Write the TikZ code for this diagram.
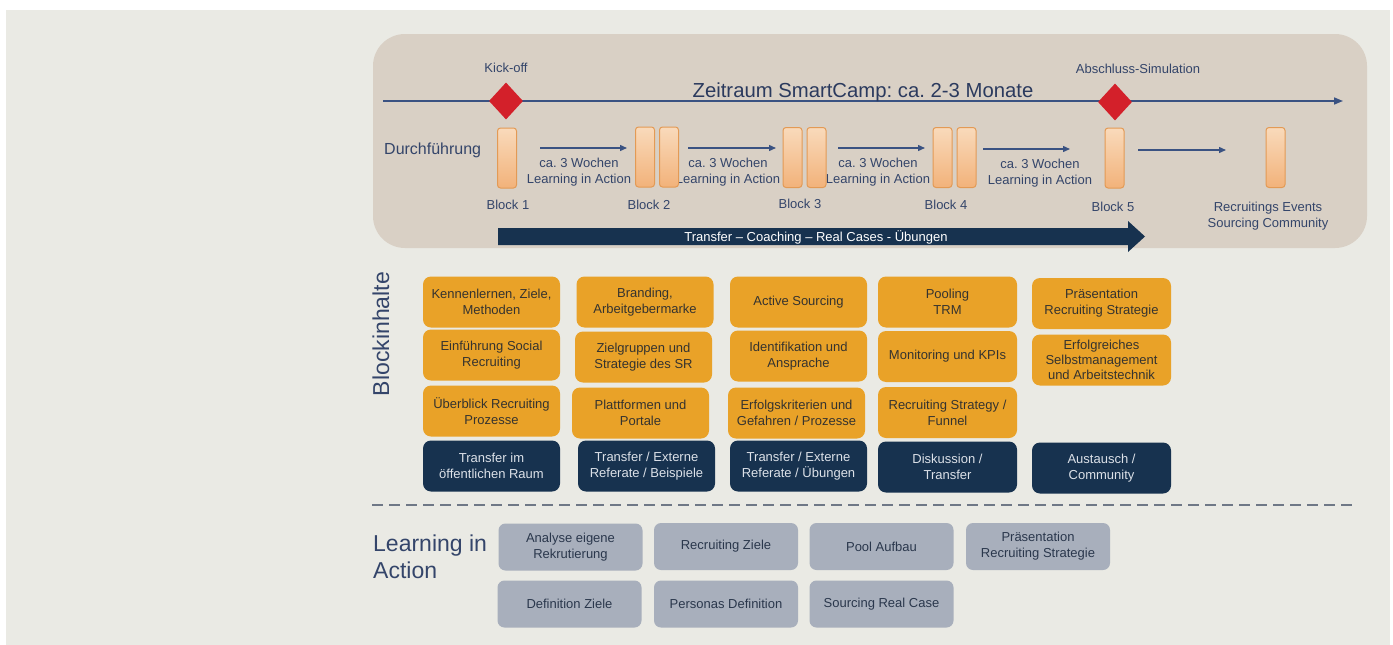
\documentclass[tikz,border=0pt]{standalone}
\usepackage{fontspec}
\setmainfont{Liberation Sans}
\frenchspacing
\usetikzlibrary{arrows.meta,shapes.geometric,calc}
\definecolor{bgc}{HTML}{EAEAE4}
\definecolor{panelc}{HTML}{D9D0C5}
\definecolor{tlc}{HTML}{3A5282}
\definecolor{titlec}{HTML}{2B3A5E}
\definecolor{kred}{HTML}{D3202A}
\definecolor{orangec}{HTML}{E9A228}
\definecolor{navyc}{HTML}{17324F}
\definecolor{grayc}{HTML}{A8AFBC}
\definecolor{gtext}{HTML}{2A374C}
\definecolor{otext}{HTML}{35332F}
\definecolor{ntext}{HTML}{DCE1E8}
\definecolor{dashc}{HTML}{6F7886}
\definecolor{lblc}{HTML}{34456A}
\definecolor{barline}{HTML}{E39A55}
\definecolor{bartop}{HTML}{F9DABB}
\definecolor{barbot}{HTML}{F2B27A}
\begin{document}
\begin{tikzpicture}[x=1pt,y=-1pt,
  small/.style={font=\fontsize{13}{16}\selectfont, inner sep=0pt, align=center},
  lbl/.style={small, text=lblc},
  obox/.style={small, rectangle, rounded corners=8pt, fill=orangec, text=otext, minimum width=137pt, minimum height=51pt},
  nbox/.style={small, rectangle, rounded corners=8pt, fill=navyc, text=ntext, minimum width=137pt, minimum height=51pt},
  gbox/.style={small, rectangle, rounded corners=7pt, fill=grayc, text=gtext, minimum width=144pt, minimum height=47pt},
  bar/.style={rectangle, rounded corners=3pt, draw=barline, line width=1pt, top color=bartop, bottom color=barbot, minimum width=19pt, minimum height=60pt, inner sep=0pt},
  milestone/.style={diamond, fill=kred, minimum width=34pt, minimum height=37pt, inner sep=0pt},
  sarrow/.style={draw=tlc, line width=1.3pt, -{Triangle[length=7pt,width=6pt]}},
]
\useasboundingbox (0,0) rectangle (1393,645);
\fill[white] (0,0) rectangle (1393,645);
\fill[bgc] (6,10) rectangle (1390,646);

% top panel
\node[rectangle, rounded corners=32pt, fill=panelc, minimum width=994pt, minimum height=214pt, inner sep=0pt] (panel) at (870,141) {};

% timeline
\coordinate (tl0) at (383,101);
\coordinate (tl1) at (1343,101);
\draw[draw=tlc, line width=1.6pt, -{Triangle[length=9pt,width=7pt]}] (tl0) -- (tl1);
\node[font=\fontsize{20.3}{24}\selectfont, text=titlec, inner sep=0pt, anchor=base] (title) at (863,97) {Zeitraum SmartCamp: ca. 2-3 Monate};
\node[milestone] (kick) at (506,101) {};
\node[milestone] (absch) at (1115,102) {};
\node[lbl, anchor=base] (kicklbl) at (506,72) {Kick-off};
\node[lbl, anchor=base] (abschlbl) at (1138,73) {Abschluss-Simulation};

\node[font=\fontsize{16}{19}\selectfont, text=lblc, inner sep=0pt, anchor=base west] (durch) at (384,154) {Durchführung};

% week labels (behind bars)
\node[lbl] (w1) at (579,172) {ca. 3 Wochen\\Learning in Action};
\node[lbl] (w2) at (728,172) {ca. 3 Wochen\\Learning in Action};
\node[lbl] (w3) at (878,172) {ca. 3 Wochen\\Learning in Action};
\node[lbl] (w4) at (1040,173) {ca. 3 Wochen\\Learning in Action};

% bars
\node[bar] (b1) at (507,158) {};
\node[bar] (b2a) at (645,157) {};
\node[bar] (b2b) at (669,157) {};
\node[bar] (b3a) at (792.5,157.5) {};
\node[bar] (b3b) at (816.5,157.5) {};
\node[bar] (b4a) at (942.5,157.5) {};
\node[bar] (b4b) at (966.5,157.5) {};
\node[bar] (b5) at (1114.5,158) {};
\node[bar] (b6) at (1275.5,157.5) {};

% small arrows
\draw[sarrow, shorten <=23pt, shorten >=8pt] ($(b1.east)+(0,-10)$) -- ($(b2a.west)+(0,-9)$);
\draw[sarrow, shorten <=9pt, shorten >=6.5pt] ($(b2b.east)+(0,-9)$) -- ($(b3a.west)+(0,-9.5)$);
\draw[sarrow, shorten <=11.5pt, shorten >=7.5pt] ($(b3b.east)+(0,-9.5)$) -- ($(b4a.west)+(0,-9.5)$);
\draw[sarrow, shorten <=6.5pt, shorten >=34.5pt] ($(b4b.east)+(0,-8.5)$) -- ($(b5.west)+(0,-9)$);
\draw[sarrow, shorten <=13.5pt, shorten >=39.5pt] ($(b5.east)+(0,-8)$) -- ($(b6.west)+(0,-7.5)$);

% block labels
\node[lbl, anchor=base] (l1) at (508,209) {Block 1};
\node[lbl, anchor=base] (l2) at (649,209) {Block 2};
\node[lbl, anchor=base] (l3) at (800,208) {Block 3};
\node[lbl, anchor=base] (l4) at (946,209) {Block 4};
\node[lbl, anchor=base] (l5) at (1113,211) {Block 5};
\node[lbl] (l6) at (1268,216) {Recruitings Events\\Sourcing Community};

% transfer arrow
\fill[navyc] (498,228) -- (1128,228) -- (1128,221) -- (1145,236.5) -- (1128,252) -- (1128,245) -- (498,245) -- cycle;
\node[small, text=white] (transfer) at (816,237) {Transfer – Coaching – Real Cases - Übungen};

% Blockinhalte
\node[font=\fontsize{23}{27}\selectfont, text=lblc, inner sep=0pt, rotate=90] (bi) at (381,334) {Blockinhalte};

% column 1
\node[obox] (c1a) at (491.5,302) {Kennenlernen, Ziele,\\Methoden};
\node[obox] (c1b) at (491.5,355) {Einführung Social\\Recruiting};
\node[obox] (c1c) at (491.5,411) {Überblick Recruiting\\Prozesse};
\node[nbox] (c1d) at (491.5,466) {Transfer im\\öffentlichen Raum};
% column 2
\node[obox] (c2a) at (645,302) {Branding,\\Arbeitgebermarke};
\node[obox] (c2b) at (643.5,357) {Zielgruppen und\\Strategie des SR};
\node[obox] (c2c) at (640.5,413) {Plattformen und\\Portale};
\node[nbox] (c2d) at (646.5,466) {Transfer / Externe\\Referate / Beispiele};
% column 3
\node[obox] (c3a) at (798.5,302) {Active Sourcing};
\node[obox] (c3b) at (798.5,356) {Identifikation und\\Ansprache};
\node[obox] (c3c) at (796.5,413) {Erfolgskriterien und\\Gefahren / Prozesse};
\node[nbox] (c3d) at (798.5,466) {Transfer / Externe\\Referate / Übungen};
% column 4
\node[obox, minimum width=139pt] (c4a) at (947.5,302) {Pooling\\TRM};
\node[obox, minimum width=139pt] (c4b) at (947.5,356.5) {Monitoring und KPIs};
\node[obox, minimum width=139pt] (c4c) at (947.5,412.5) {Recruiting Strategy /\\Funnel};
\node[nbox, minimum width=139pt] (c4d) at (947.5,467) {Diskussion /\\Transfer};
% column 5
\node[obox, minimum width=139pt] (c5a) at (1101.5,303.5) {Präsentation\\Recruiting Strategie};
\node[obox, minimum width=139pt, font=\fontsize{13}{15}\selectfont] (c5b) at (1101.5,360) {Erfolgreiches\\Selbstmanagement\\und Arbeitstechnik};
\node[nbox, minimum width=139pt] (c5d) at (1101.5,468) {Austausch /\\Community};

% dashed separator
\coordinate (d0) at (372,505);
\coordinate (d1) at (1352,505);
\draw[draw=dashc, line width=1.6pt, dash pattern=on 11pt off 6pt] (d0) -- (d1);

% Learning in Action
\node[font=\fontsize{23}{27}\selectfont, text=lblc, inner sep=0pt, align=left, anchor=west] (lia) at (373,557) {Learning in\\Action};

\node[gbox] (g1) at (570.5,547) {Analyse eigene\\Rekrutierung};
\node[gbox] (g2) at (726,546.5) {Recruiting Ziele};
\node[gbox] (g3) at (881.5,546.5) {Pool Aufbau};
\node[gbox] (g4) at (1038,546.5) {Präsentation\\Recruiting Strategie};
\node[gbox] (g5) at (569.5,604) {Definition Ziele};
\node[gbox] (g6) at (726,604) {Personas Definition};
\node[gbox] (g7) at (881.5,604) {Sourcing Real Case};
\end{tikzpicture}
\end{document}
